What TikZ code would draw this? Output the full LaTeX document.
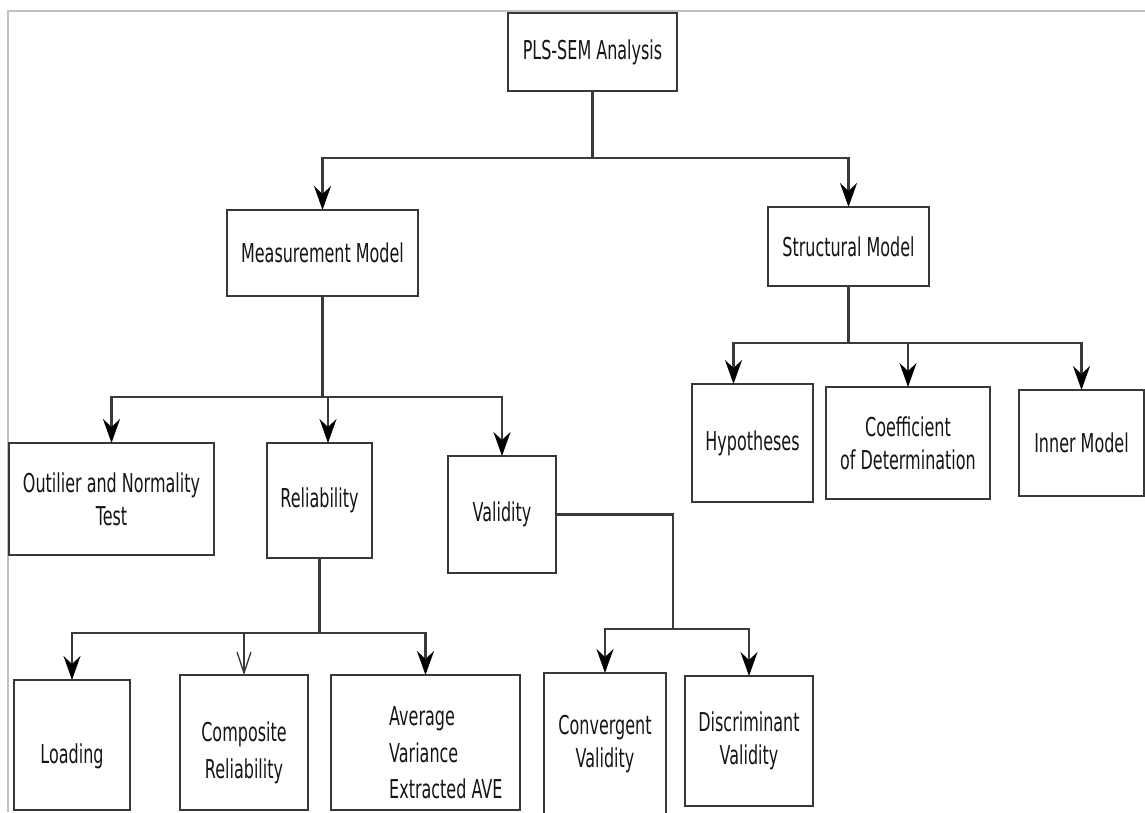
\documentclass[tikz,border=0pt]{standalone}
\usepackage{fontspec}
\setmainfont[FakeStretch=0.615]{DejaVu Sans}
\usetikzlibrary{arrows.meta}
\definecolor{boxgray}{HTML}{383838}
\definecolor{linegray}{HTML}{3A3A3A}
\definecolor{framegray}{HTML}{C0C0C0}
\definecolor{inkgray}{HTML}{151515}
\newcommand\diagfont{\fontsize{26}{33}\selectfont}
\newcommand\diagfontwide{\fontsize{26}{36.5}\selectfont}
\begin{document}
\begin{tikzpicture}[x=1pt,y=-1pt,
  box/.style={draw=boxgray, line width=2.4pt, inner sep=0pt, outer sep=0pt,
    align=center, font=\diagfont, text=inkgray, fill=white},
  txt/.style={inner sep=0pt, font=\diagfontwide, text=inkgray},
  link/.style={draw=linegray, line width=2.2pt},
  solidtip/.style={-{Stealth[length=24pt,width=17pt,inset=8pt,black]}},
  opentip/.style={-{Straight Barb[length=21pt,width=14pt,line width=1.3pt]}}
]
\clip (0,0) rectangle (1145,812);
\fill[white] (0,0) rectangle (1145,812);
% page frame
\draw[framegray, line width=2pt] (8,812) -- (8,11) -- (1145,11);

% boxes
\node[box, minimum width=169pt, minimum height=78pt] (pls) at (592.5,52) {PLS-SEM Analysis};
\node[box, minimum width=191pt, minimum height=86pt] (mm) at (322.5,253) {Measurement Model};
\node[box, minimum width=161pt, minimum height=79pt] (sm) at (848.5,246.5) {Structural Model};

\node[box, minimum width=205pt, minimum height=112pt] (out) at (111.5,499) {Outilier and Normality\\Test};
\node[box, minimum width=105pt, minimum height=115pt] (rel) at (319.5,500.5) {Reliability};
\node[box, minimum width=108pt, minimum height=117pt] (val) at (502,514.5) {Validity};

\node[box, minimum width=121pt, minimum height=118pt] (hyp) at (752.5,443) {Hypotheses};
\node[box, minimum width=164pt, minimum height=112pt] (coef) at (908,443) {Coefficient\\of Determination};
\node[box, minimum width=125pt, minimum height=106pt] (inner) at (1081.5,443) {Inner Model};

\node[box, minimum width=116pt, minimum height=130pt] (load) at (72,745) {};
\node[box, minimum width=128pt, minimum height=135pt] (comp) at (244,742.5) {};
\node[box, minimum width=189pt, minimum height=135pt] (ave) at (425.5,742.5) {};
\node[box, minimum width=122pt, minimum height=142pt] (conv) at (605,744) {Convergent\\Validity};
\node[box, minimum width=128pt, minimum height=130pt] (disc) at (749,741) {Discriminant\\Validity};

\node[txt] (loadtxt) at (72,756) {Loading};
\node[txt, align=center] (comptxt) at (244,753) {Composite\\Reliability};
\node[txt, align=left, anchor=west] (avetxt) at (389,753) {Average\\Variance\\ Extracted AVE};

% junctions
\coordinate (j0) at (592.5,158);
\coordinate (j1) at (322.5,397);
\coordinate (j2) at (319.5,633);
\coordinate (j3) at (673,629);
\coordinate (j4) at (848.5,343);

% connectors
\draw[link] (pls.south) -- (j0);
\draw[link, solidtip] (j0) -| (mm.north);
\draw[link, solidtip] (j0) -| (sm.north);

\draw[link] (mm.south) -- (j1);
\draw[link, solidtip] (j1) -| (out.north);
\draw[link, solidtip] (j1) -| ([xshift=8.5pt]rel.north);
\draw[link, solidtip] (j1) -| (val.north);

\draw[link] (rel.south) -- (j2);
\draw[link, solidtip] (j2) -| (load.north);
\draw[link, opentip] (j2) -| (comp.north);
\draw[link, solidtip] (j2) -| (ave.north);

\draw[link] (val.east) -| (j3);
\draw[link, solidtip] (j3) -| (conv.north);
\draw[link, solidtip] (j3) -| (disc.north);

\draw[link] (sm.south) -- (j4);
\draw[link, solidtip] (j4) -| ([xshift=-19pt]hyp.north);
\draw[link, solidtip] (j4) -| (coef.north);
\draw[link, solidtip] (j4) -| (inner.north);
\end{tikzpicture}
\end{document}
